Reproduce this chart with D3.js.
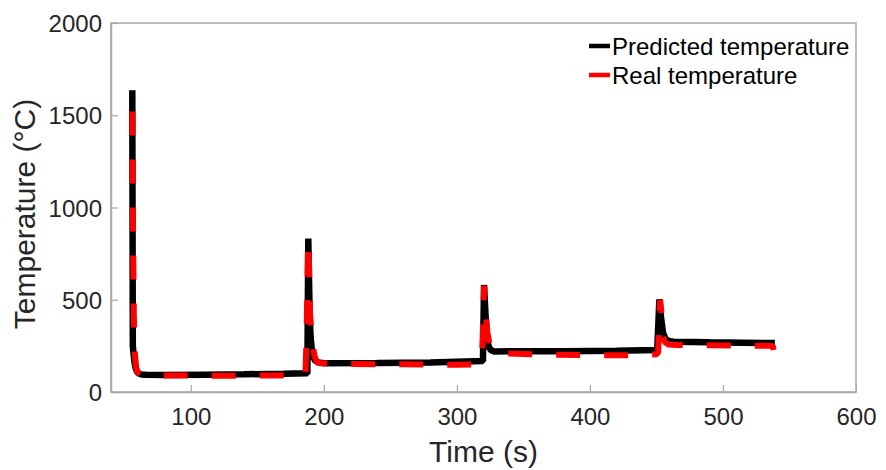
<!DOCTYPE html>
<html lang="en">
<head>
    <meta charset="UTF-8">
    <title>Predicted vs real temperature</title>
    <script src="https://d3js.org/d3.v7.min.js"></script>
    <style>
        body { margin: 0; background: #fff; }
        svg text { font-family: "Liberation Sans", Arial, Helvetica, sans-serif; }
    </style>
</head>
<body>
<div id="chart"></div>
<script>
    // values: [time (s), temperature (°C)]
    const predicted = [
        [56, 1636], [56.4, 250], [57.5, 170], [58.5, 130], [59.5, 110], [61, 100], [63, 95],
        [66, 93], [80, 92], [110, 94], [140, 96], [170, 99], [187.6, 101],
        [188.3, 832], [189.3, 430], [190, 300], [191, 225], [192, 190], [193.5, 170],
        [196, 160], [200, 156], [240, 157], [280, 160], [319.6, 168],
        [320.4, 580], [321.5, 420], [322.8, 280], [324, 245], [325.5, 228], [328, 220],
        [380, 221], [420, 224], [450.6, 228],
        [452.2, 502], [453.5, 400], [455, 320], [457, 285], [460, 275], [463, 272],
        [490, 269], [515, 267], [539, 265]
    ];
    const real = [
        [56, 1520], [56.5, 900], [57.2, 400], [58, 200], [59, 130], [60, 105], [62, 95],
        [65, 92], [80, 90], [120, 88], [160, 89], [184, 90], [186.2, 100], [187, 300],
        [188.2, 820], [188.8, 700], [189.6, 430], [190.5, 320], [191.8, 245], [193, 195],
        [194.5, 165], [196, 157], [220, 152], [260, 150], [300, 148], [316, 150],
        [317.5, 160], [319, 200], [320.5, 575], [321.3, 500], [322, 400], [323, 320],
        [324.5, 260], [326.5, 230], [329, 217], [335, 210], [360, 203], [400, 200],
        [440, 199], [450, 205], [451.3, 215], [452.8, 498], [453.6, 440], [454.3, 360],
        [455, 300], [456.5, 270], [459, 258], [465, 255], [490, 253], [520, 251],
        [537.5, 250], [538, 228]
    ];
    const xTicks = [100, 200, 300, 400, 500, 600];
    const yTicks = [0, 500, 1000, 1500, 2000];
    const seriesNames = ["Predicted temperature", "Real temperature"];
    const seriesColors = ["#000000", "#ff0000"];

    const width = 886, height = 470;
    const margin = {top: 23, right: 30, bottom: 78, left: 111};

    const svg = d3.select("#chart").append("svg")
        .attr("width", width)
        .attr("height", height);

    const x = d3.scaleLinear().domain([40, 600]).range([margin.left, width - margin.right]);
    const y = d3.scaleLinear().domain([0, 2000]).range([height - margin.bottom, margin.top]);

    const axisColor = "#a8a8a8";
    const textColor = "#262626";

    // box
    svg.append("rect")
        .attr("x", margin.left).attr("y", margin.top)
        .attr("width", x.range()[1] - x.range()[0])
        .attr("height", y.range()[0] - y.range()[1])
        .attr("fill", "none").attr("stroke", axisColor).attr("stroke-width", 1.5);

    // axes, ticks inward
    const xAxis = svg.append("g")
        .attr("transform", `translate(0,${y(0)})`)
        .call(d3.axisBottom(x).tickValues(xTicks).tickFormat(d3.format("d"))
            .tickSizeInner(-7).tickSizeOuter(0).tickPadding(0));
    xAxis.select(".domain").attr("stroke", axisColor).attr("stroke-width", 1.5);
    xAxis.selectAll(".tick line").attr("stroke", axisColor).attr("stroke-width", 1.2);
    xAxis.selectAll(".tick text").attr("y", 33).attr("dy", 0)
        .attr("fill", textColor).style("font-size", "24px");

    const yAxis = svg.append("g")
        .attr("transform", `translate(${x(40)},0)`)
        .call(d3.axisLeft(y).tickValues(yTicks).tickFormat(d3.format("d"))
            .tickSizeInner(-7).tickSizeOuter(0).tickPadding(0));
    yAxis.select(".domain").attr("stroke", axisColor).attr("stroke-width", 1.5);
    yAxis.selectAll(".tick line").attr("stroke", axisColor).attr("stroke-width", 1.2);
    yAxis.selectAll(".tick text").attr("x", -9).attr("dy", "0.36em")
        .attr("fill", textColor).style("font-size", "24px");

    // axis labels
    svg.append("text")
        .attr("x", (x.range()[0] + x.range()[1]) / 2)
        .attr("y", 462)
        .attr("text-anchor", "middle")
        .attr("fill", textColor)
        .style("font-size", "30px")
        .text("Time (s)");

    svg.append("text")
        .attr("transform", "translate(35,214) rotate(-90)")
        .attr("text-anchor", "middle")
        .attr("fill", textColor)
        .style("font-size", "30px")
        .text("Temperature (°C)");

    // lines
    const line = d3.line().x(d => x(d[0])).y(d => y(d[1]));

    svg.append("path")
        .datum(predicted)
        .attr("d", line)
        .attr("fill", "none")
        .attr("stroke", seriesColors[0])
        .attr("stroke-width", 6.5)
        .attr("stroke-linejoin", "bevel");

    svg.append("path")
        .datum(real)
        .attr("d", line)
        .attr("fill", "none")
        .attr("stroke", seriesColors[1])
        .attr("stroke-width", 6)
        .attr("stroke-linejoin", "bevel")
        .attr("stroke-dasharray", "24,24");

    // legend
    const legend = svg.append("g");
    seriesNames.forEach((name, i) => {
        const cy = 46 + i * 29;
        legend.append("line")
            .attr("x1", 589).attr("x2", 610)
            .attr("y1", cy).attr("y2", cy)
            .attr("stroke", seriesColors[i]).attr("stroke-width", 4.5);
        legend.append("text")
            .attr("x", 612).attr("y", cy)
            .attr("dy", "0.36em")
            .attr("fill", "#000")
            .style("font-size", "24px")
            .text(name);
    });
</script>
</body>
</html>
